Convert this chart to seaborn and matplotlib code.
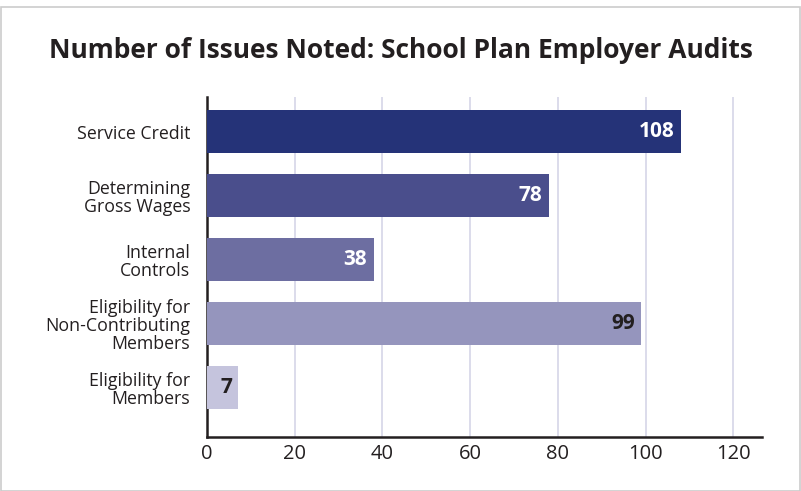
import matplotlib
matplotlib.use("Agg")
import matplotlib.pyplot as plt
import seaborn as sns
import pandas as pd
from matplotlib.patches import Rectangle

categories = ["Service Credit", "Determining\nGross Wages", "Internal\nControls",
              "Eligibility for\nNon-Contributing\nMembers", "Eligibility for\nMembers"]
values = [108, 78, 38, 99, 7]
colors = ["#253378", "#4a4e8c", "#6d6ea1", "#9595bd", "#c5c4dd"]
label_colors = ["white", "white", "white", "#231f20", "#231f20"]
xticks = [0, 20, 40, 60, 80, 100, 120]

sns.set_theme(style="white")
plt.rcParams['font.family'] = ['Open Sans', 'DejaVu Sans']

df = pd.DataFrame({"cat": categories, "val": values})

fig = plt.figure(figsize=(8.01, 4.91), dpi=100)
ax = fig.add_axes([207/801, 1 - 437/491, (762-207)/801, (437-97)/491])

sns.barplot(data=df, x="val", y="cat", hue="cat", palette=colors, legend=False,
            width=0.67, ax=ax, saturation=1, zorder=3, linewidth=0)

ax.set_xlim(0, 126.5)
ax.set_ylim(4.77, -0.54)
ax.set_xticks(xticks)
ax.set_xticklabels([str(t) for t in xticks], fontsize=14.5, color="#231f20")
ax.tick_params(axis="x", length=0, pad=5)
ax.tick_params(axis="y", length=0, pad=12)
for lbl in ax.get_yticklabels():
    lbl.set_fontsize(12.8)
    lbl.set_color("#231f20")
    lbl.set_horizontalalignment("right")
    lbl.set_multialignment("right")
    lbl.set_linespacing(1.0)
ax.set_xlabel("")
ax.set_ylabel("")
for x in xticks[1:]:
    ax.axvline(x, color="#d9d9e9", lw=1.3, zorder=1)
for s in ["top", "right"]:
    ax.spines[s].set_visible(False)
ax.spines["left"].set_color("#231f20")
ax.spines["bottom"].set_color("#231f20")
ax.spines["left"].set_linewidth(1.8)
ax.spines["bottom"].set_linewidth(1.8)
ax.grid(False)

for i, (v, c) in enumerate(zip(values, label_colors)):
    if v < 20:
        ax.text(v / 2 + 1, i, str(v), ha="center", va="center", fontsize=15,
                fontweight="bold", color=c, zorder=4)
    else:
        ax.text(v - 1.5, i, str(v), ha="right", va="center", fontsize=15,
                fontweight="bold", color=c, zorder=4)

fig.text(0.5, 1 - 50/491, "Number of Issues Noted: School Plan Employer Audits",
         ha="center", va="center", fontsize=19, fontweight="bold", color="#231f20")

fig.patches.append(Rectangle((1/801, 0), 799/801, 1 - 7/491, transform=fig.transFigure,
                             fill=False, edgecolor="#cccccc", lw=1.2))

fig.savefig("out.png", dpi=100)
